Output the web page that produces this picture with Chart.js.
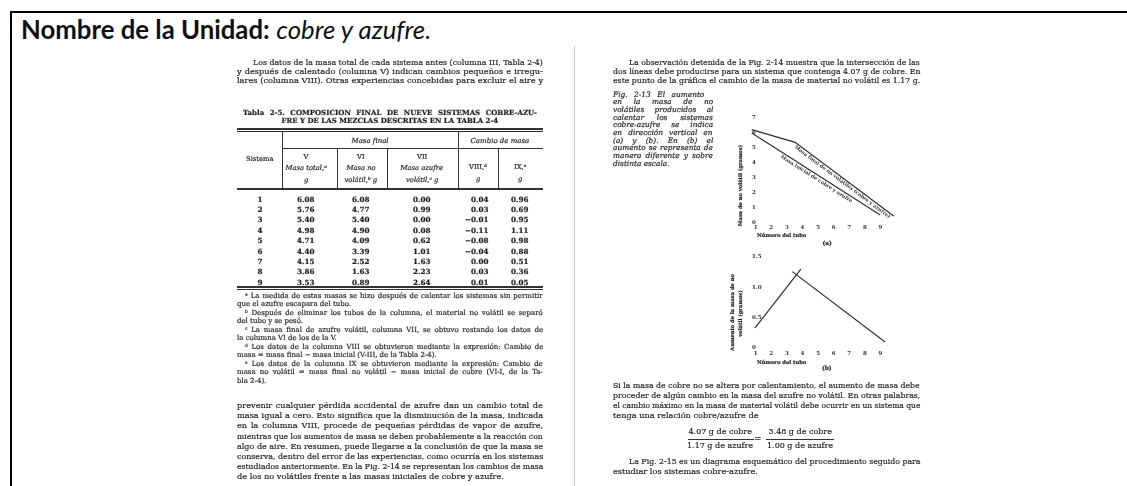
<!DOCTYPE html>
<html lang="es">
<head>
<meta charset="utf-8">
<title>cobre y azufre</title>
<script src="https://cdn.jsdelivr.net/npm/chart.js@4.4.0/dist/chart.umd.min.js"></script>
<style>
  html, body { margin: 0; padding: 0; background: #fff; }
  body { width: 1127px; height: 486px; position: relative; overflow: hidden; }
  #frame { position: absolute; left: 10px; top: 11px; width: 1200px; height: 520px; border-left: 2px solid #000; border-top: 2px solid #000; }
  #title { position: absolute; left: 21px; top: 18px; font-family: Lato, "Open Sans", sans-serif; font-size: 20px; line-height: 22px; color: #111; white-space: nowrap; }
  #page { position: absolute; left: 0; top: 0; width: 1127px; height: 486px; filter: blur(0.45px); }
  .ln { position: absolute; white-space: nowrap; font-family: "DejaVu Serif", "Liberation Serif", serif; color: #1e1e1e; -webkit-text-stroke: 0.2px #2a2a2a; transform-origin: 0 50%; }
  .rule { position: absolute; background: #333; }
  .box { position: absolute; }
</style>
</head>
<body>
<div id="frame"></div>
<div id="title"><b>Nombre de la Unidad:</b> <i>cobre y azufre.</i></div>
<div id="page">
  <div class="rule" style="left:574px;top:46px;width:1px;height:440px;background:#c8c8c8"></div>
  <!-- tabla 2-5 -->
  <div class="rule" style="left:237px;top:128px;width:306px;height:1.5px"></div>
  <div class="rule" style="left:237px;top:131px;width:306px;height:0.8px"></div>
  <div class="rule" style="left:282px;top:148px;width:261px;height:0.8px"></div>
  <div class="rule" style="left:237px;top:188px;width:306px;height:1.5px"></div>
  <div class="rule" style="left:237px;top:286px;width:306px;height:1.5px"></div>
  <div class="rule" style="left:237px;top:289px;width:306px;height:0.8px"></div>
  <div class="rule" style="left:282px;top:131px;width:0.8px;height:57px"></div>
  <div class="rule" style="left:337px;top:148px;width:0.8px;height:40px"></div>
  <div class="rule" style="left:387px;top:148px;width:0.8px;height:40px"></div>
  <div class="rule" style="left:458px;top:131px;width:0.8px;height:57px"></div>
  <div class="rule" style="left:498px;top:148px;width:0.8px;height:40px"></div>
  <div class="box" style="left:720px;top:105px;width:185px;height:140px"><canvas id="chartA" width="185" height="140"></canvas></div>
  <div class="box" style="left:720px;top:245px;width:185px;height:130px"><canvas id="chartB" width="185" height="130"></canvas></div>
</div>
<script>
// Fig. 2-13 (a) y (b)
const tubeTicks = [1, 2, 3, 4, 5, 6, 7, 8, 9];
const massTicksA = [0, 1, 2, 3, 4, 5, 6, 7];
const gainTicksB = [0, 0.5, 1.0, 1.5];
const finalMassA = [{x: 0.75, y: 6.2}, {x: 3.53, y: 5.35}, {x: 9.85, y: 0.47}];
const initialMassA = [{x: 0.75, y: 5.98}, {x: 8.99, y: 0.53}];
const gainRiseB = [{x: 0.96, y: 0.33}, {x: 3.9, y: 1.30}];
const gainFallB = [{x: 3.35, y: 1.26}, {x: 9.3, y: 0.10}];

// Tabla 2-5
const sistemas = ['1', '2', '3', '4', '5', '6', '7', '8', '9'];
const colV = ['6.08', '5.76', '5.40', '4.98', '4.71', '4.40', '4.15', '3.86', '3.53'];
const colVI = ['6.08', '4.77', '5.40', '4.90', '4.09', '3.39', '2.52', '1.63', '0.89'];
const colVII = ['0.00', '0.99', '0.00', '0.08', '0.62', '1.01', '1.63', '2.23', '2.64'];
const colVIII = ['0.04', '0.03', '−0.01', '−0.11', '−0.08', '−0.04', '0.00', '0.03', '0.01'];
const colIX = ['0.96', '0.69', '0.95', '1.11', '0.98', '0.88', '0.51', '0.36', '0.05'];

const page = document.getElementById('page');

function put(text, x, y, size, o = {}) {
  const el = document.createElement('div');
  el.className = 'ln';
  el.textContent = text;
  el.style.fontSize = size + 'px';
  el.style.lineHeight = Math.ceil(size * 1.2) + 'px';
  if (o.italic) el.style.fontStyle = 'italic';
  if (o.bold) el.style.fontWeight = 'bold';
  page.appendChild(el);
  const w = el.offsetWidth, h = el.offsetHeight;
  let left = x;
  if (o.w) {
    const gaps = (text.match(/ /g) || []).length;
    if (w > o.w) el.style.transform = `scaleX(${o.w / w})`;
    else if (o.justify && gaps) el.style.wordSpacing = ((o.w - w) / gaps) + 'px';
  }
  if (o.align === 'center') left = x - w / 2;
  if (o.align === 'right') left = x - w;
  el.style.left = left + 'px';
  el.style.top = (y - h / 2) + 'px';
  if (o.rotate) {
    el.style.left = (x - w / 2) + 'px';
    el.style.transformOrigin = '50% 50%';
    el.style.transform = `rotate(${o.rotate}deg)`;
  }
  return el;
}

function para(lines, x, y0, dy, w, size, o = {}) {
  lines.forEach((t, i) => {
    const ind = (o.indent && i === 0) ? o.indent : 0;
    const last = i === lines.length - 1;
    put(t, x + ind, y0 + i * dy, size, Object.assign({}, o, {w: w - ind, justify: !(last && o.loose)}));
  });
}

// title width
(function () {
  const t = document.getElementById('title');
  const w = t.offsetWidth;
  t.style.fontSize = (20 * 411 / w) + 'px';
})();

// ---- pagina izquierda ----
para([
  'Los datos de la masa total de cada sistema antes (columna III, Tabla 2-4)',
  'y después de calentado (columna V) indican cambios pequeños e irregu-',
  'lares (columna VIII). Otras experiencias concebidas para excluir el aire y'
], 237, 62, 9, 306, 8.2, {indent: 16});

put('Tabla 2-5.   COMPOSICION FINAL DE NUEVE SISTEMAS COBRE-AZU-', 243, 112, 7, {bold: true, w: 300, justify: true});
put('FRE Y DE LAS MEZCLAS DESCRITAS EN LA TABLA 2-4', 390, 120.5, 7, {bold: true, align: 'center'});

put('Masa final', 370, 141.5, 7, {italic: true, align: 'center'});
put('Cambio de masa', 500, 141.5, 7, {italic: true, align: 'center'});
put('Sistema', 260, 159, 6.8, {align: 'center'});
[[306, ['V', 'Masa total,ᵃ', 'g']], [361, ['VI', 'Masa no', 'volátil,ᵇ g']], [422, ['VII', 'Masa azufre', 'volátil,ᶜ g']]]
  .forEach(([cx, rows]) => rows.forEach((t, i) => put(t, cx, 157 + i * 11.5, 6.8, {italic: i > 0, align: 'center'})));
put('VIII,ᵈ', 478, 167, 6.8, {align: 'center'});
put('g', 478, 179, 6.8, {italic: true, align: 'center'});
put('IX,ᵉ', 520, 167, 6.8, {align: 'center'});
put('g', 520, 179, 6.8, {italic: true, align: 'center'});

sistemas.forEach((s, i) => {
  const y = 199 + i * 10.4;
  put(s, 260, y, 7.2, {bold: true, align: 'center'});
  put(colV[i], 306, y, 7.2, {bold: true, align: 'center'});
  put(colVI[i], 361, y, 7.2, {bold: true, align: 'center'});
  put(colVII[i], 422, y, 7.2, {bold: true, align: 'center'});
  put(colVIII[i], 489, y, 7.2, {bold: true, align: 'right'});
  put(colIX[i], 520, y, 7.2, {bold: true, align: 'center'});
});

const notas = [
  ['ᵃ La medida de estas masas se hizo después de calentar los sistemas sin permitir', 'que el azufre escapara del tubo.'],
  ['ᵇ Después de eliminar los tubos de la columna, el material no volátil se separó', 'del tubo y se pesó.'],
  ['ᶜ La masa final de azufre volátil, columna VII, se obtuvo restando los datos de', 'la columna VI de los de la V.'],
  ['ᵈ Los datos de la columna VIII se obtuvieron mediante la expresión: Cambio de', 'masa = masa final − masa inicial (V-III, de la Tabla 2-4).'],
  ['ᵉ Los datos de la columna IX se obtuvieron mediante la expresión: Cambio de', 'masa no volátil = masa final no volátil − masa inicial de cobre (VI-I, de la Ta-', 'bla 2-4).']
];
let ny = 296;
notas.forEach(n => {
  para(n, 237, ny, 8.5, 306, 7, {indent: 8, loose: true});
  ny += n.length * 8.5;
});

para([
  'prevenir cualquier pérdida accidental de azufre dan un cambio total de',
  'masa igual a cero. Esto significa que la disminución de la masa, indicada',
  'en la columna VIII, procede de pequeñas pérdidas de vapor de azufre,',
  'mientras que los aumentos de masa se deben probablemente a la reacción con',
  'algo de aire. En resumen, puede llegarse a la conclusión de que la masa se',
  'conserva, dentro del error de las experiencias, como ocurría en los sistemas',
  'estudiados anteriormente. En la Fig. 2-14 se representan los cambios de masa',
  'de los no volátiles frente a las masas iniciales de cobre y azufre.'
], 237, 405, 10.2, 306, 8.2, {loose: true});

// ---- pagina derecha ----
para([
  'La observación detenida de la Fig. 2-14 muestra que la intersección de las',
  'dos líneas debe producirse para un sistema que contenga 4.07 g de cobre. En',
  'este punto de la gráfica el cambio de la masa de material no volátil es 1.17 g.'
], 613, 62, 9, 307, 8.2, {indent: 16});

para([
  'Fig. 2-13   El aumento',
  'en la masa de no',
  'volátiles producidos al',
  'calentar los sistemas',
  'cobre-azufre se indica',
  'en dirección vertical en',
  '(a) y (b). En (b) el',
  'aumento se representa de',
  'manera diferente y sobre',
  'distinta escala.'
], 613, 94, 7.7, 100, 7.4, {italic: true, loose: true});

para([
  'Si la masa de cobre no se altera por calentamiento, el aumento de masa debe',
  'proceder de algún cambio en la masa del azufre no volátil. En otras palabras,',
  'el cambio máximo en la masa de material volátil debe ocurrir en un sistema que',
  'tenga una relación cobre/azufre de'
], 613, 385, 10, 307, 8.2, {loose: true});

put('4.07 g de cobre', 720, 432, 8, {align: 'center'});
put('1.17 g de azufre', 720, 446, 8, {align: 'center'});
put('=', 758, 439, 8, {align: 'center'});
put('3.48 g de cobre', 800, 432, 8, {align: 'center'});
put('1.00 g de azufre', 800, 446, 8, {align: 'center'});
const bar1 = document.createElement('div'); bar1.className = 'rule';
bar1.style.cssText = 'left:688px;top:438.5px;width:66px;height:0.8px';
const bar2 = document.createElement('div'); bar2.className = 'rule';
bar2.style.cssText = 'left:766px;top:438.5px;width:68px;height:0.8px';
page.appendChild(bar1); page.appendChild(bar2);

para([
  'La Fig. 2-15 es un diagrama esquemático del procedimiento seguido para',
  'estudiar los sistemas cobre-azufre.'
], 613, 461, 10, 307, 8.2, {indent: 16, loose: true});

// rotulos de los ejes
put('Masa de no volátil (gramos)', 740, 185, 5.2, {bold: true, rotate: -90});
put('Número del tubo', 757, 235, 5.2, {bold: true});
put('(a)', 827, 243, 5.8, {bold: true, align: 'center'});
put('Aumento de la masa de no', 732, 312, 5.2, {bold: true, rotate: -90});
put('volátil (gramos)', 740, 313, 5.2, {bold: true, rotate: -90});
put('Número del tubo', 757, 362, 5.2, {bold: true});
put('(b)', 827, 368, 5.8, {bold: true, align: 'center'});

// ---- graficas ----
const lineLabels = {
  id: 'lineLabels',
  afterDatasetsDraw(chart, args, opts) {
    const {ctx, scales: {x, y}} = chart;
    (opts.items || []).forEach(it => {
      const d = chart.data.datasets[it.dataset].data;
      const a = d[it.from], b = d[it.to];
      const x1 = x.getPixelForValue(a.x), y1 = y.getPixelForValue(a.y);
      const x2 = x.getPixelForValue(b.x), y2 = y.getPixelForValue(b.y);
      ctx.save();
      ctx.translate(x1 + (x2 - x1) * it.at, y1 + (y2 - y1) * it.at);
      ctx.rotate(Math.atan2(y2 - y1, x2 - x1));
      ctx.font = 'bold 5px "DejaVu Serif"';
      ctx.fillStyle = '#333';
      ctx.textAlign = 'center';
      ctx.textBaseline = 'middle';
      ctx.fillText(it.text, 0, it.offset);
      ctx.restore();
    });
  }
};

const tickFont = {size: 5.5, weight: 'bold', family: '"DejaVu Serif"'};

function makeChart(id, datasets, yMax, yTicks, xPad, labels, fmt) {
  return new Chart(document.getElementById(id), {
    type: 'line',
    data: {datasets: datasets.map(d => ({data: d, borderColor: '#2e2e2e', borderWidth: 1.2, pointRadius: 0, tension: 0, fill: false}))},
    options: {
      responsive: false, animation: false, events: [],
      layout: {padding: {top: id === 'chartA' ? 8 : 6, right: 9, left: 0, bottom: 0}},
      plugins: {legend: {display: false}, tooltip: {enabled: false}, lineLabels: {items: labels}},
      scales: {
        x: {
          type: 'linear', min: 0.7, max: 10,
          grid: {display: false, drawTicks: false}, border: {display: false},
          afterBuildTicks: s => { s.ticks = tubeTicks.map(v => ({value: v})); },
          afterFit: s => { s.height = id === 'chartA' ? 22 : 27; },
          ticks: {font: tickFont, color: '#333', padding: xPad, maxRotation: 0, autoSkip: false}
        },
        y: {
          type: 'linear', min: 0, max: yMax,
          grid: {display: false, drawTicks: false}, border: {display: false},
          afterBuildTicks: s => { s.ticks = yTicks.map(v => ({value: v})); },
          afterFit: s => { s.width = 31; },
          ticks: {font: tickFont, color: '#333', mirror: true, padding: 1, autoSkip: false, callback: fmt}
        }
      }
    },
    plugins: [lineLabels]
  });
}

makeChart('chartA', [finalMassA, initialMassA], 7.3, massTicksA, 1, [
  {dataset: 0, from: 1, to: 2, at: 0.5, offset: 3.5, text: 'Masa final de no volátiles (cobre y azufre)'},
  {dataset: 1, from: 0, to: 1, at: 0.52, offset: 4, text: 'Masa inicial de cobre y azufre'}
], v => String(v));

makeChart('chartB', [gainRiseB, gainFallB], 1.6, gainTicksB, 2, [],
  v => v === 0 ? '0' : Number(v).toFixed(1));
</script>
</body>
</html>
